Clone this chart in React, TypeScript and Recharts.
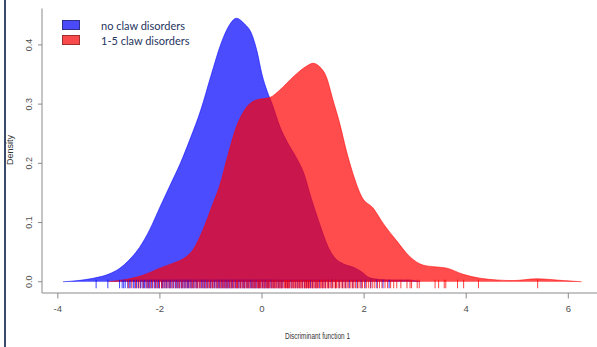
import React from 'react';
import { ComposedChart, Area, Scatter, XAxis, YAxis, Legend, Label } from 'recharts';

const seriesNames = ['no claw disorders', '1-5 claw disorders'];

const blueX = [-3.9, -3.6, -3.3, -3.0, -2.8, -2.6, -2.4, -2.2, -2.0, -1.8, -1.6, -1.4, -1.2, -1.0, -0.8, -0.65, -0.5, -0.35, -0.2, -0.1, 0.0, 0.1, 0.2, 0.35, 0.5, 0.67, 0.82, 0.95, 1.1, 1.2, 1.3, 1.43, 1.6, 1.8, 1.95, 2.1, 2.3, 2.6, 2.85, 3.1];
const blueY = [0.0, 0.002, 0.006, 0.013, 0.022, 0.037, 0.058, 0.088, 0.126, 0.163, 0.2, 0.243, 0.29, 0.348, 0.403, 0.432, 0.445, 0.436, 0.418, 0.39, 0.35, 0.322, 0.3, 0.262, 0.235, 0.21, 0.183, 0.145, 0.105, 0.08, 0.058, 0.04, 0.03, 0.024, 0.017, 0.007, 0.004, 0.003, 0.003, 0.0];

const redX = [-3.0, -2.66, -2.33, -2.0, -1.75, -1.52, -1.35, -1.16, -0.96, -0.83, -0.67, -0.5, -0.34, -0.11, 0.15, 0.35, 0.61, 0.87, 1.0, 1.13, 1.26, 1.39, 1.52, 1.65, 1.78, 1.95, 2.18, 2.37, 2.63, 2.9, 3.16, 3.42, 3.62, 3.94, 4.27, 4.6, 4.92, 5.38, 5.9, 6.26];
const redY = [0.0, 0.004, 0.011, 0.023, 0.031, 0.04, 0.054, 0.087, 0.132, 0.162, 0.213, 0.262, 0.29, 0.307, 0.311, 0.324, 0.346, 0.364, 0.369, 0.363, 0.346, 0.307, 0.268, 0.222, 0.183, 0.144, 0.124, 0.099, 0.07, 0.042, 0.028, 0.025, 0.023, 0.0125, 0.006, 0.003, 0.002, 0.005, 0.002, 0.0];

const blueRug = [-3.25, -3.02, -2.79, -2.74, -2.71, -2.68, -2.63, -2.6, -2.57, -2.52, -2.49, -2.46, -2.42, -2.38, -2.35, -2.32, -2.3, -2.27, -2.24, -2.22, -2.2, -2.17, -2.15, -2.11, -2.09, -2.06, -2.03, -2.01, -1.97, -1.95, -1.92, -1.9, -1.87, -1.84, -1.81, -1.79, -1.76, -1.73, -1.7, -1.68, -1.66, -1.63, -1.61, -1.58, -1.56, -1.53, -1.51, -1.49, -1.46, -1.44, -1.41, -1.39, -1.37, -1.34, -1.31, -1.28, -1.26, -1.22, -1.19, -1.17, -1.14, -1.12, -1.1, -1.07, -1.04, -1.01, -0.98, -0.96, -0.93, -0.9, -0.88, -0.85, -0.83, -0.8, -0.78, -0.76, -0.73, -0.71, -0.69, -0.67, -0.65, -0.63, -0.6, -0.58, -0.55, -0.52, -0.49, -0.47, -0.45, -0.42, -0.39, -0.36, -0.34, -0.31, -0.28, -0.26, -0.23, -0.21, -0.19, -0.16, -0.14, -0.12, -0.1, -0.07, -0.05, -0.02, 0.01, 0.04, 0.06, 0.08, 0.11, 0.13, 0.16, 0.19, 0.22, 0.25, 0.29, 0.32, 0.35, 0.38, 0.41, 0.46, 0.5, 0.53, 0.57, 0.61, 0.66, 0.7, 0.74, 0.79, 0.83, 0.87, 0.91, 0.95, 0.99, 1.04, 1.08, 1.13, 1.19, 1.24, 1.3, 1.37, 1.44, 1.51, 1.58, 1.64, 1.71, 1.78, 1.86, 1.94, 2.02, 2.13, 2.25, 2.37, 2.49];
const redRug = [-2.62, -2.55, -2.48, -2.43, -2.39, -2.33, -2.27, -2.23, -2.19, -2.14, -2.09, -2.05, -2.01, -1.97, -1.94, -1.9, -1.86, -1.82, -1.78, -1.74, -1.69, -1.65, -1.62, -1.58, -1.55, -1.51, -1.47, -1.43, -1.39, -1.36, -1.33, -1.29, -1.26, -1.23, -1.2, -1.16, -1.13, -1.09, -1.06, -1.03, -1.0, -0.97, -0.94, -0.9, -0.87, -0.84, -0.81, -0.78, -0.76, -0.73, -0.7, -0.67, -0.64, -0.61, -0.59, -0.56, -0.53, -0.5, -0.48, -0.45, -0.42, -0.39, -0.37, -0.34, -0.31, -0.29, -0.27, -0.24, -0.21, -0.18, -0.16, -0.14, -0.12, -0.09, -0.07, -0.05, -0.03, 0.0, 0.02, 0.04, 0.06, 0.09, 0.11, 0.13, 0.15, 0.18, 0.2, 0.22, 0.24, 0.26, 0.28, 0.31, 0.33, 0.35, 0.37, 0.39, 0.41, 0.44, 0.46, 0.48, 0.5, 0.52, 0.54, 0.57, 0.59, 0.61, 0.63, 0.65, 0.67, 0.7, 0.72, 0.74, 0.76, 0.78, 0.8, 0.83, 0.85, 0.87, 0.89, 0.91, 0.93, 0.96, 0.98, 1.0, 1.02, 1.05, 1.07, 1.09, 1.11, 1.14, 1.16, 1.18, 1.2, 1.23, 1.25, 1.28, 1.3, 1.33, 1.35, 1.38, 1.41, 1.44, 1.46, 1.49, 1.52, 1.55, 1.58, 1.61, 1.64, 1.67, 1.7, 1.74, 1.77, 1.8, 1.83, 1.87, 1.9, 1.94, 1.97, 2.01, 2.05, 2.09, 2.13, 2.17, 2.21, 2.26, 2.3, 2.35, 2.41, 2.46, 2.52, 2.58, 2.64, 2.72, 2.84, 2.9, 2.93, 3.04, 3.08, 3.39, 3.46, 3.57, 3.6, 3.83, 3.95, 4.24, 5.4];

const xTicks = [-4, -2, 0, 2, 4, 6];
const yTicks = [0, 0.1, 0.2, 0.3, 0.4];

const allX = Array.from(new Set([...blueX, ...redX])).sort((a, b) => a - b);
const table = allX.map((x) => {
  const bi = blueX.indexOf(x);
  const ri = redX.indexOf(x);
  return { x, blue: bi >= 0 ? blueY[bi] : null, red: ri >= 0 ? redY[ri] : null };
});
const blueRugData = blueRug.map((x) => ({ x, y: 0 }));
const redRugData = redRug.map((x) => ({ x, y: 0 }));

const BLUE = '#0000ff';
const RED = '#ff0000';
const AXIS = '#8a8a8a';
const TICKTXT = '#505050';

const rugShape = (color: string, opacity: number) => (props: any) => (
  <line x1={props.cx} x2={props.cx} y1={props.cy - 2} y2={props.cy + 6.5} stroke={color} strokeOpacity={opacity} strokeWidth={1} />
);

const YTick = (props: any) => {
  const { x, y, payload } = props;
  return (
    <text x={x} y={y} transform={`rotate(-90 ${x} ${y})`} textAnchor="middle" dominantBaseline="central" fontSize={9} fill={TICKTXT} fontFamily="Liberation Sans, Arial, sans-serif">
      {Number(payload.value).toFixed(1)}
    </text>
  );
};

const LegendBox = () => (
  <div style={{ fontFamily: 'Lato, sans-serif', fontSize: 11, color: '#1f3560', lineHeight: '15px' }}>
    {seriesNames.map((n, i) => (
      <div key={n} style={{ display: 'flex', alignItems: 'center', height: 15 }}>
        <span style={{ display: 'inline-block', width: 16, height: 8, background: i ? '#f84a4a' : '#4a4af8', border: `1px solid ${i ? '#a03030' : '#30308a'}`, marginRight: 21 }} />
        <span>{n}</span>
      </div>
    ))}
  </div>
);

export default function App() {
  return (
    <div style={{ position: 'absolute', left: 0, top: 0, width: 597, height: 347, overflow: 'hidden', background: '#fff' }}>
      <div style={{ position: 'absolute', left: 4, top: 0, width: 1.5, height: 347, background: '#3a4a6a' }} />
      <ComposedChart width={605} height={347} data={table} margin={{ top: 8.5, right: 2.5, left: 0, bottom: 0 }}>
        <XAxis xAxisId="top" orientation="top" type="number" dataKey="x" domain={[-4.31, 6.67]} allowDataOverflow height={0} tick={false} tickLine={false} axisLine={{ stroke: AXIS }} />
        <XAxis
          type="number"
          dataKey="x"
          domain={[-4.31, 6.67]}
          allowDataOverflow
          ticks={xTicks}
          height={54}
          tickSize={5.5}
          tickMargin={7}
          axisLine={{ stroke: AXIS }}
          tickLine={{ stroke: AXIS }}
          tick={{ fontSize: 9.5, fill: TICKTXT, fontFamily: 'Liberation Sans, Arial, sans-serif' }}
        >
          <Label
            content={() => (
              <text x={317.5} y={336} textAnchor="middle" dominantBaseline="central" fontSize={9} fill="#333" fontFamily="Liberation Sans, Arial, sans-serif" textLength={65} lengthAdjust="spacingAndGlyphs">
                Discriminant function 1
              </text>
            )}
          />
        </XAxis>
        <YAxis
          type="number"
          domain={[-0.019, 0.4615]}
          allowDataOverflow
          ticks={yTicks}
          width={42}
          tickSize={4}
          tickMargin={9}
          axisLine={{ stroke: AXIS }}
          tickLine={{ stroke: AXIS }}
          tick={<YTick />}
        >
          <Label
            content={() => (
              <text x={10} y={150} transform="rotate(-90 10 150)" textAnchor="middle" dominantBaseline="central" fontSize={9} fill="#333" fontFamily="Liberation Sans, Arial, sans-serif">
                Density
              </text>
            )}
          />
        </YAxis>
        <Legend layout="vertical" align="center" verticalAlign="middle" content={<LegendBox />} wrapperStyle={{ position: 'absolute', left: 62, top: 17.5, width: 220, height: 30 }} />
        <Area type="monotone" dataKey="blue" name={seriesNames[0]} connectNulls baseValue={0} fill={BLUE} fillOpacity={0.7} stroke={BLUE} strokeOpacity={0.7} strokeWidth={0.8} isAnimationActive={false} />
        <Area type="monotone" dataKey="red" name={seriesNames[1]} connectNulls baseValue={0} fill={RED} fillOpacity={0.7} stroke={RED} strokeOpacity={0.7} strokeWidth={0.8} isAnimationActive={false} />
        <Scatter data={blueRugData} dataKey="y" shape={rugShape(BLUE, 0.75)} isAnimationActive={false} legendType="none" />
        <Scatter data={redRugData} dataKey="y" shape={rugShape(RED, 0.75)} isAnimationActive={false} legendType="none" />
      </ComposedChart>
    </div>
  );
}
